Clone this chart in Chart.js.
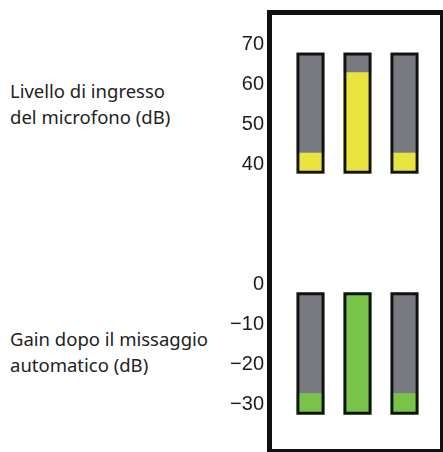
<!DOCTYPE html>
<html>
<head>
<meta charset="utf-8">
<title>Livello di ingresso / Gain</title>
<script src="https://cdn.jsdelivr.net/npm/chart.js@4"></script>
<style>
  body { margin: 0; background: #fff; overflow: hidden; }
  #page { position: relative; width: 443px; height: 452px; }
  canvas { position: absolute; left: 0; }
  #topMeter { top: 0; }
  #bottomMeter { top: 226px; }
  .label {
    position: absolute; left: 10px;
    font-family: "Noto Sans", sans-serif; font-size: 18.5px; line-height: 26px;
    color: #222;
  }
  #frame {
    position: absolute; left: 267px; top: 10px; width: 176px; height: 442px;
    box-sizing: border-box; pointer-events: none;
    border-left: 5px solid #111; border-top: 5px solid #111;
    border-right: 3px solid #111; border-bottom: 3px solid #111;
  }
</style>
</head>
<body>
<div id="page">
  <div class="label" style="top:78px">Livello di ingresso<br>del microfono (dB)</div>
  <div class="label" style="top:326px">Gain dopo il missaggio<br>automatico (dB)</div>
  <canvas id="topMeter" width="443" height="226"></canvas>
  <canvas id="bottomMeter" width="443" height="226"></canvas>
  <div id="frame"></div>
</div>
<script>
'use strict'

// Data
const channels = ['Mic 1', 'Mic 2', 'Mic 3'];

// Upper meters: mic input level (dB)
const inputRange = [37.6, 68.1];
const inputLevels = [42.9, 63.1, 42.9];
const inputTicks = [40, 50, 60, 70];

// Lower meters: gain after automix (dB)
const gainRange = [-32.5, -2];
const gainLevels = [-27.1, -2, -27.1];
const gainTicks = [0, -10, -20, -30];

// Colours
const meterGray = '#797a7f';
const yellow = '#e9e33f';
const green = '#79c34b';

function tickText(v) {
    return v < 0 ? '\u2212' + Math.abs(v) : String(v);
}

// one block of three meters
function makeMeter(id, range, levels, fill, ticks, yMin, yMax, padTop, padBottom) {
    let full = channels.map(() => range);
    let lit = levels.map(l => [range[0], l]);

    return new Chart(document.getElementById(id), {
        type: 'bar',
        data: {
            labels: channels,
            datasets: [
                // black outline drawn last, on top of the fills
                { data: full, backgroundColor: 'rgba(0,0,0,0)', borderColor: '#111', borderWidth: 3, borderSkipped: false, order: 0 },
                { data: lit, backgroundColor: fill, borderWidth: 0, order: 1 },
                { data: full, backgroundColor: meterGray, borderWidth: 0, order: 2 }
            ]
        },
        options: {
            responsive: false,
            animation: false,
            layout: { padding: { left: 200, right: 15, top: padTop, bottom: padBottom } },
            datasets: { bar: { grouped: false, categoryPercentage: 1, barPercentage: 0.6 } },
            plugins: { legend: { display: false }, tooltip: { enabled: false } },
            scales: {
                x: { display: false },
                y: {
                    min: yMin,
                    max: yMax,
                    grid: { display: false, drawTicks: false },
                    border: { display: false },
                    afterBuildTicks: (scale) => { scale.ticks = ticks.map(v => ({ value: v })); },
                    // fixed width, and don't let the label padding squeeze the plot vertically
                    afterFit: (scale) => { scale.width = 87; scale.paddingTop = 0; scale.paddingBottom = 0; },
                    ticks: {
                        padding: 23,
                        color: '#1c1c1c',
                        font: { family: '"Liberation Sans", Arial, sans-serif', size: 20 },
                        callback: (v) => tickText(v)
                    }
                }
            }
        }
    });
}

makeMeter('topMeter', inputRange, inputLevels, yellow, inputTicks, 30, 75, 25, 22);
makeMeter('bottomMeter', gainRange, gainLevels, green, gainTicks, -40, 5, 38, 7);
</script>
</body>
</html>
